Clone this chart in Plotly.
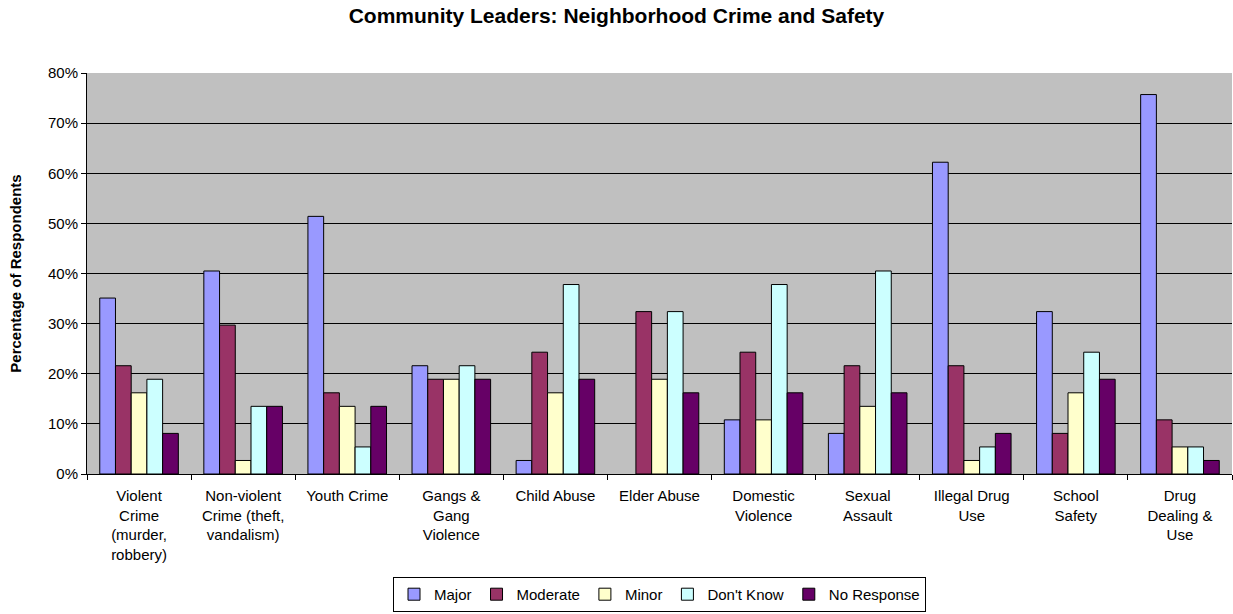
import plotly.graph_objects as go

categories = [
    "Violent<br>Crime<br>(murder,<br>robbery)",
    "Non-violent<br>Crime (theft,<br>vandalism)",
    "Youth Crime",
    "Gangs &<br>Gang<br>Violence",
    "Child Abuse",
    "Elder Abuse",
    "Domestic<br>Violence",
    "Sexual<br>Assault",
    "Illegal Drug<br>Use",
    "School<br>Safety",
    "Drug<br>Dealing &<br>Use",
]

major = [35.1, 40.5, 51.4, 21.6, 2.7, 0.0, 10.8, 8.1, 62.2, 32.4, 75.7]
moderate = [21.6, 29.7, 16.2, 18.9, 24.3, 32.4, 24.3, 21.6, 21.6, 8.1, 10.8]
minor = [16.2, 2.7, 13.5, 18.9, 16.2, 18.9, 10.8, 13.5, 2.7, 16.2, 5.4]
dont_know = [18.9, 13.5, 5.4, 21.6, 37.8, 32.4, 37.8, 40.5, 5.4, 24.3, 5.4]
no_response = [8.1, 13.5, 13.5, 18.9, 18.9, 16.2, 16.2, 16.2, 8.1, 18.9, 2.7]

series = [
    ("Major", major, "#9999FF"),
    ("Moderate", moderate, "#993366"),
    ("Minor", minor, "#FFFFCC"),
    ("Don't Know", dont_know, "#CCFFFF"),
    ("No Response", no_response, "#660066"),
]

font_family = "Liberation Sans, Arial, sans-serif"

fig = go.Figure()
for name, vals, color in series:
    fig.add_trace(go.Bar(
        x=categories, y=vals, name=name,
        marker=dict(color=color,
                    line=dict(color="black",
                              width=[0 if v == 0 else 1 for v in vals])),
    ))

fig.update_layout(
    width=1233, height=614,
    margin=dict(l=87, r=1, t=73, b=140),
    paper_bgcolor="white",
    plot_bgcolor="#C0C0C0",
    barmode="group",
    bargap=0.245,
    bargroupgap=0,
    font=dict(family=font_family, size=15, color="black"),
    title=dict(
        text="<b>Community Leaders: Neighborhood Crime and Safety</b>",
        x=0.5, xref="container", xanchor="center",
        y=0.974, yref="container", yanchor="middle",
        font=dict(size=21, family=font_family, color="black"),
    ),
    showlegend=True,
    legend=dict(
        orientation="h",
        x=0.5, xanchor="center",
        y=-0.344, yanchor="bottom",
        bordercolor="black", borderwidth=1,
        bgcolor="white",
        font=dict(size=15, family=font_family),
        itemwidth=30,
        tracegroupgap=0,
    ),
)

fig.update_xaxes(
    showline=True, linecolor="black", linewidth=1,
    ticks="outside", tickson="boundaries", ticklen=5, tickcolor="black",
    tickfont=dict(size=15, family=font_family),
    ticklabelstandoff=8,
    showgrid=False,
)
fig.update_yaxes(
    range=[0, 80], dtick=10, ticksuffix="%",
    showline=True, linecolor="black", linewidth=1,
    ticks="outside", ticklen=5, tickcolor="black",
    showgrid=True, gridcolor="black", gridwidth=1,
    tickfont=dict(size=15, family=font_family),
    title=dict(text="<b>Percentage of Respondents</b>", standoff=22,
               font=dict(size=15, family=font_family)),
    zeroline=False,
)

fig.write_html("out.html", config={"displayModeBar": False},
               post_script="document.body.style.margin='0px';")
